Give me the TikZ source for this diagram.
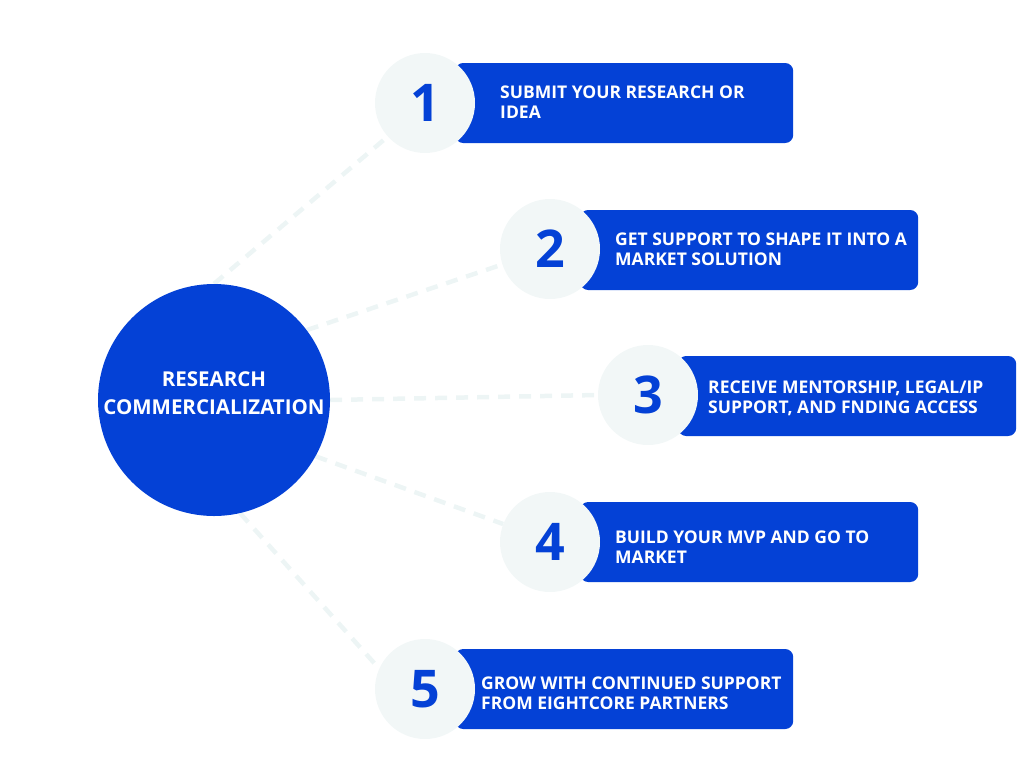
\documentclass[tikz,border=0pt]{standalone}
\usepackage{fontspec}
\setmainfont{Open Sans}
\usetikzlibrary{backgrounds}
\definecolor{brand}{HTML}{0441D6}
\definecolor{pale}{HTML}{F2F7F7}
\definecolor{dashc}{HTML}{EDF5F5}
\tikzset{
  hub/.style={circle, fill=brand, minimum size=232pt, inner sep=0pt},
  hubtext/.style={text=white, align=center, inner sep=0pt,
    font=\fontsize{20.5}{28}\selectfont\bfseries},
  numc/.style={circle, fill=pale, minimum size=100pt, inner sep=0pt, text=brand,
    font=\fontsize{52}{52}\selectfont\bfseries},
  stepbox/.style={rounded corners=8pt, fill=brand, minimum width=338pt, minimum height=80pt, inner sep=0pt, anchor=west},
  steptext/.style={anchor=west, align=left, text=white, inner sep=0pt,
    font=\fontsize{17.5}{20}\selectfont\bfseries},
  conn/.style={draw=dashc, line width=4.5pt, dash pattern=on 12pt off 9pt}
}
\begin{document}
\begin{tikzpicture}[x=1pt,y=-1pt]
\useasboundingbox (0,0) rectangle (1024,768);
% boxes
\node[stepbox] (b1) at (455,103) {};
\node[stepbox] (b2) at (580,250) {};
\node[stepbox] (b3) at (678,396) {};
\node[stepbox] (b4) at (580,542) {};
\node[stepbox] (b5) at (455,689) {};
% number circles
\node[numc] (c1) at (425,103) {1};
\node[numc] (c2) at (550,249) {2};
\node[numc] (c3) at (648,395) {3};
\node[numc] (c4) at (550,542) {4};
\node[numc] (c5) at (425,689) {5};
% texts
\node[steptext] (t1) at (500,102) {SUBMIT YOUR RESEARCH OR\\IDEA};
\node[steptext] (t2) at (615,249) {GET SUPPORT TO SHAPE IT INTO A\\MARKET SOLUTION};
\node[steptext] (t3) at (708,398) {RECEIVE MENTORSHIP, LEGAL/IP\\SUPPORT, AND FNDING ACCESS};
\node[steptext] (t4) at (615,547) {BUILD YOUR MVP AND GO TO\\MARKET};
\node[steptext] (t5) at (481,693) {GROW WITH CONTINUED SUPPORT\\FROM EIGHTCORE PARTNERS};
% hub
\node[hub] (hub) at (214,400) {};
\node[hubtext] (hublabel) at (214,393) {RESEARCH\\COMMERCIALIZATION};
\begin{scope}[on background layer]
\draw[conn] (hub.90) -- (c1.222);
\draw[conn] (hub.37) -- (c2.198);
\draw[conn] (hub.0) -- (c3.180);
\draw[conn] (hub.-29) -- (c4.159);
\draw[conn] (hub.-77) -- (c5.156);
\end{scope}
\end{tikzpicture}
\end{document}
